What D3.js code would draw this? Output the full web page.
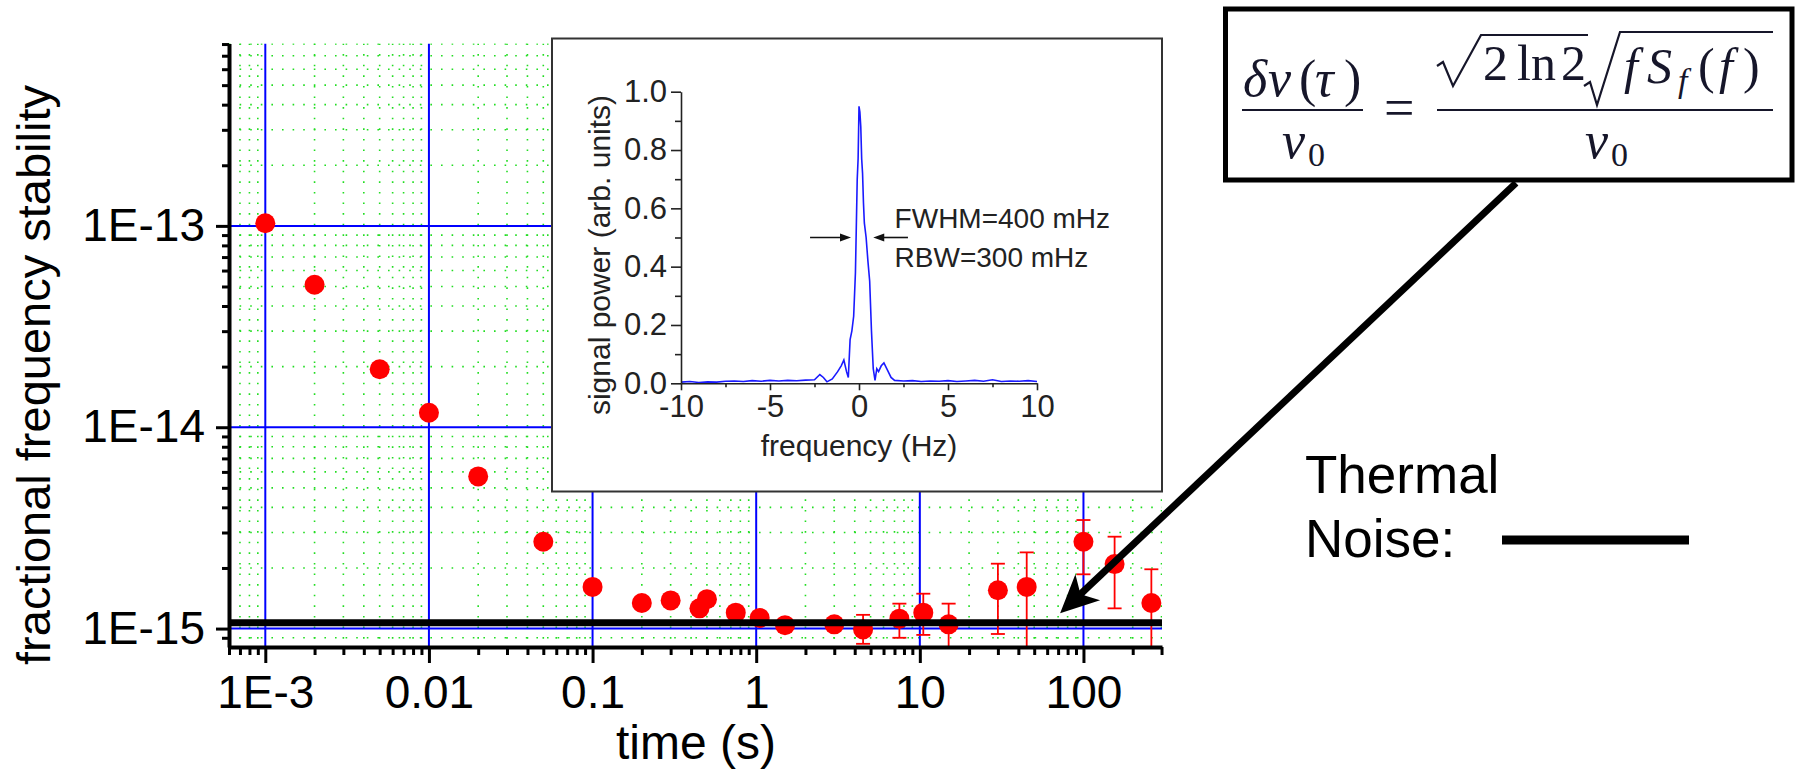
<!DOCTYPE html>
<html>
<head>
<meta charset="utf-8">
<script src="https://cdn.jsdelivr.net/npm/d3@7"></script>
<style>
  body { margin: 0; background: #fff; }
  svg { display: block; font-family: "Liberation Sans", Arial, sans-serif; }
</style>
</head>
<body>
<svg id="chart" width="1796" height="770"></svg>
<script>
// averaging time (s) and fractional frequency stability
var tau = [0.001, 0.002, 0.005, 0.01, 0.02, 0.05, 0.1, 0.2, 0.3, 0.45, 0.5, 0.75, 1.05, 1.5,
           3, 4.5, 7.5, 10.5, 15, 30, 45, 100, 155, 260];
var sigma = [1.03e-13, 5.1e-14, 1.94e-14, 1.18e-14, 5.7e-15, 2.7e-15, 1.61e-15, 1.34e-15, 1.38e-15,
             1.26e-15, 1.40e-15, 1.2e-15, 1.13e-15, 1.04e-15, 1.05e-15, 0.99e-15, 1.12e-15, 1.2e-15,
             1.05e-15, 1.55e-15, 1.61e-15, 2.7e-15, 2.09e-15, 1.34e-15];
var errLow = [null, null, null, null, null, null, null, null, null, null, null, null, null, null, null,
              8.4e-16, 0.9e-15, 0.93e-15, 7.9e-16, 0.94e-15, 7.9e-16, 1.86e-15, 1.26e-15, 7.9e-16];
var errHigh = [null, null, null, null, null, null, null, null, null, null, null, null, null, null, null,
               1.17e-15, 1.33e-15, 1.49e-15, 1.33e-15, 2.1e-15, 2.39e-15, 3.46e-15, 2.86e-15, 1.97e-15];
var thermalNoise = 1.07e-15;

var xMajor = [1e-3, 1e-2, 1e-1, 1, 10, 100];
var xTickLabels = ['1E-3', '0.01', '0.1', '1', '10', '100'];
var yMajor = [1e-15, 1e-14, 1e-13];
var yTickLabels = ['1E-15', '1E-14', '1E-13'];

// inset: beat note spectrum
var specFreq = [-10, -9.5, -9, -8.5, -8, -7.5, -7, -6.5, -6, -5.5, -5, -4.5, -4, -3.5, -3, -2.5,
                -2.2, -2.0, -1.8, -1.5, -1.2, -1.0, -0.85, -0.7, -0.6, -0.5, -0.4, -0.3, -0.2, -0.1,
                -0.05, 0, 0.05, 0.1, 0.15, 0.2, 0.25, 0.3, 0.4, 0.5, 0.6, 0.7, 0.8, 0.9, 1.0, 1.1,
                1.25, 1.4, 1.6, 1.8, 2.0, 2.5, 3, 3.5, 4, 4.5, 5, 5.5, 6, 6.5, 7, 7.5, 8, 8.5, 9, 9.5, 10];
var specPower = [0.004, 0.006, 0.003, 0.005, 0.004, 0.007, 0.008, 0.006, 0.009, 0.007, 0.01, 0.008,
                 0.01, 0.009, 0.011, 0.012, 0.03, 0.02, 0.005, 0.015, 0.04, 0.06, 0.08, 0.04, 0.02,
                 0.15, 0.18, 0.23, 0.38, 0.7, 0.77, 0.95, 0.93, 0.88, 0.77, 0.72, 0.62, 0.55, 0.5,
                 0.42, 0.35, 0.18, 0.05, 0.01, 0.05, 0.04, 0.06, 0.07, 0.045, 0.02, 0.01, 0.008,
                 0.009, 0.006, 0.008, 0.007, 0.009, 0.006, 0.008, 0.01, 0.007, 0.012, 0.006, 0.008,
                 0.007, 0.009, 0.006];
var insetXTicks = [-10, -5, 0, 5, 10];
var insetXMinor = [-7.5, -2.5, 2.5, 7.5];
var insetYTicks = [0, 0.2, 0.4, 0.6, 0.8, 1.0];
var insetYMinor = [0.1, 0.3, 0.5, 0.7, 0.9];

var svg = d3.select('#chart');
svg.append('rect').attr('width', 1796).attr('height', 770).attr('fill', '#fff');

var plot = {left: 229, right: 1162, top: 43.5, bottom: 647};
var x = d3.scaleLog().domain([6e-4, 302]).range([plot.left, plot.right]);
var y = d3.scaleLog().domain([8.1e-16, 8.05e-13]).range([plot.bottom, plot.top]);

function minorTicks(domain) {
  var lo = domain[0], hi = domain[1], out = [];
  for (var e = Math.floor(Math.log10(lo)); e <= Math.ceil(Math.log10(hi)); e++) {
    for (var m = 2; m <= 9; m++) {
      var v = m * Math.pow(10, e);
      if (v >= lo * 0.999 && v <= hi * 1.001) out.push(v);
    }
  }
  return out;
}
var xMinor = minorTicks(x.domain());
var yMinor = minorTicks(y.domain());

svg.append('clipPath').attr('id', 'plotClip').append('rect')
  .attr('x', plot.left).attr('y', plot.top)
  .attr('width', plot.right - plot.left).attr('height', plot.bottom - plot.top);

// grid
var grid = svg.append('g').attr('clip-path', 'url(#plotClip)');
grid.selectAll('.gx').data(xMinor).enter().append('line')
  .attr('x1', function(d) { return x(d); }).attr('x2', function(d) { return x(d); })
  .attr('y1', plot.top).attr('y2', plot.bottom)
  .attr('stroke', '#22dd22').attr('stroke-width', 1.6).attr('stroke-dasharray', '1.6,9');
grid.selectAll('.gy').data(yMinor).enter().append('line')
  .attr('y1', function(d) { return y(d); }).attr('y2', function(d) { return y(d); })
  .attr('x1', plot.left).attr('x2', plot.right)
  .attr('stroke', '#22dd22').attr('stroke-width', 1.6).attr('stroke-dasharray', '1.6,9');
grid.selectAll('.bx').data(xMajor).enter().append('line')
  .attr('x1', function(d) { return x(d); }).attr('x2', function(d) { return x(d); })
  .attr('y1', plot.top).attr('y2', plot.bottom)
  .attr('stroke', '#0000ff').attr('stroke-width', 2);
grid.selectAll('.by').data(yMajor).enter().append('line')
  .attr('y1', function(d) { return y(d); }).attr('y2', function(d) { return y(d); })
  .attr('x1', plot.left).attr('x2', plot.right)
  .attr('stroke', '#0000ff').attr('stroke-width', 2);

// inset box
var inset = {left: 552, right: 1162, top: 38.5, bottom: 491.5};
svg.append('rect')
  .attr('x', inset.left).attr('y', inset.top)
  .attr('width', inset.right - inset.left).attr('height', inset.bottom - inset.top)
  .attr('fill', '#fff').attr('stroke', '#333').attr('stroke-width', 2);

// error bars and points
var marks = svg.append('g').attr('clip-path', 'url(#plotClip)');
tau.forEach(function(t, i) {
  if (errLow[i] === null) return;
  var cx = x(t);
  marks.append('line').attr('x1', cx).attr('x2', cx)
    .attr('y1', y(errLow[i])).attr('y2', y(errHigh[i]))
    .attr('stroke', '#ff0000').attr('stroke-width', 1.8);
  [errLow[i], errHigh[i]].forEach(function(v) {
    marks.append('line').attr('x1', cx - 7).attr('x2', cx + 7)
      .attr('y1', y(v)).attr('y2', y(v))
      .attr('stroke', '#ff0000').attr('stroke-width', 1.8);
  });
});
marks.selectAll('circle').data(tau).enter().append('circle')
  .attr('cx', function(d) { return x(d); })
  .attr('cy', function(d, i) { return y(sigma[i]); })
  .attr('r', 10)
  .attr('fill', '#ff0000');

marks.append('line')
  .attr('x1', plot.left).attr('x2', plot.right)
  .attr('y1', y(thermalNoise)).attr('y2', y(thermalNoise))
  .attr('stroke', '#000').attr('stroke-width', 7);

// axes
function styleAxis(g, width, size) {
  g.select('.domain').attr('stroke', '#000').attr('stroke-width', width);
  g.selectAll('line').attr('stroke', '#000').attr('stroke-width', 3);
  g.selectAll('text').attr('fill', '#000').attr('font-size', size)
    .attr('font-family', '"Liberation Sans", Arial, sans-serif');
}
var yAxis = svg.append('g').attr('transform', 'translate(' + plot.left + ',0)')
  .call(d3.axisLeft(y).tickValues(yMajor).tickSize(13).tickSizeOuter(0).tickPadding(11)
    .tickFormat(function(d, i) { return yTickLabels[i]; }));
svg.append('g').attr('transform', 'translate(' + plot.left + ',0)')
  .call(d3.axisLeft(y).tickValues(yMinor).tickSize(7).tickSizeOuter(0).tickFormat(''))
  .call(function(g) { g.select('.domain').remove(); g.selectAll('line').attr('stroke', '#000').attr('stroke-width', 3); });
styleAxis(yAxis, 4, 46);

var xAxis = svg.append('g').attr('transform', 'translate(0,' + plot.bottom + ')')
  .call(d3.axisBottom(x).tickValues(xMajor).tickSize(16).tickSizeOuter(0).tickPadding(12)
    .tickFormat(function(d, i) { return xTickLabels[i]; }));
svg.append('g').attr('transform', 'translate(0,' + plot.bottom + ')')
  .call(d3.axisBottom(x).tickValues(xMinor).tickSize(8).tickSizeOuter(0).tickFormat(''))
  .call(function(g) { g.select('.domain').remove(); g.selectAll('line').attr('stroke', '#000').attr('stroke-width', 3); });
styleAxis(xAxis, 4, 46);

svg.append('text').attr('x', 696).attr('y', 759).attr('text-anchor', 'middle')
  .attr('font-size', 48).text('time (s)');
svg.append('text').attr('transform', 'translate(50,375) rotate(-90)').attr('text-anchor', 'middle')
  .attr('font-size', 47).text('fractional frequency stability');

// inset plot
var ix = d3.scaleLinear().domain([-10, 10]).range([681, 1037]);
var iy = d3.scaleLinear().domain([0, 1]).range([383.3, 91.7]);
var spec = specFreq.map(function(f, i) { return [f, specPower[i]]; });
svg.append('path')
  .attr('d', d3.line().x(function(d) { return ix(d[0]); }).y(function(d) { return iy(d[1]); })(spec))
  .attr('fill', 'none').attr('stroke', '#1a1aff').attr('stroke-width', 1.6);

function styleInsetAxis(g) {
  g.select('.domain').attr('stroke', '#222').attr('stroke-width', 1.6);
  g.selectAll('line').attr('stroke', '#222').attr('stroke-width', 1.6);
  g.selectAll('text').attr('fill', '#222').attr('font-size', 31)
    .attr('font-family', '"Liberation Sans", Arial, sans-serif');
}
var iyAxis = svg.append('g').attr('transform', 'translate(681,0)')
  .call(d3.axisLeft(iy).tickValues(insetYTicks).tickSize(10).tickSizeOuter(0).tickPadding(4)
    .tickFormat(d3.format('.1f')));
styleInsetAxis(iyAxis);
svg.append('g').attr('transform', 'translate(681,0)')
  .call(d3.axisLeft(iy).tickValues(insetYMinor).tickSize(6).tickFormat(''))
  .call(function(g) { g.select('.domain').remove(); g.selectAll('line').attr('stroke', '#222').attr('stroke-width', 1.6); });
var ixAxis = svg.append('g').attr('transform', 'translate(0,383.3)')
  .call(d3.axisBottom(ix).tickValues(insetXTicks).tickSize(7).tickSizeOuter(0).tickPadding(5)
    .tickFormat(function(d) { return String(d); }));
styleInsetAxis(ixAxis);
svg.append('g').attr('transform', 'translate(0,383.3)')
  .call(d3.axisBottom(ix).tickValues(insetXMinor).tickSize(4).tickFormat(''))
  .call(function(g) { g.select('.domain').remove(); g.selectAll('line').attr('stroke', '#222').attr('stroke-width', 1.6); });

svg.append('text').attr('x', ix(0)).attr('y', 456).attr('text-anchor', 'middle')
  .attr('font-size', 30).attr('fill', '#222').text('frequency (Hz)');
svg.append('text').attr('transform', 'translate(610,255) rotate(-90)').attr('text-anchor', 'middle')
  .attr('font-size', 30).attr('fill', '#222').text('signal power (arb. units)');

// FWHM arrows
function smallArrow(f0, f1, p) {
  var x0 = ix(f0), x1 = ix(f1), yy = iy(p), dir = x1 > x0 ? 1 : -1;
  svg.append('line').attr('x1', x0).attr('x2', x1 - dir * 8).attr('y1', yy).attr('y2', yy)
    .attr('stroke', '#111').attr('stroke-width', 1.6);
  svg.append('path')
    .attr('d', 'M' + x1 + ',' + yy + 'L' + (x1 - dir * 11) + ',' + (yy - 4) + 'L' + (x1 - dir * 11) + ',' + (yy + 4) + 'Z')
    .attr('fill', '#111');
}
smallArrow(-2.75, -0.45, 0.5);
smallArrow(2.75, 0.8, 0.5);
svg.append('text').attr('x', ix(2.0)).attr('y', iy(0.533)).attr('font-size', 28).attr('fill', '#222')
  .text('FWHM=400 mHz');
svg.append('text').attr('x', ix(2.0)).attr('y', iy(0.4)).attr('font-size', 28).attr('fill', '#222')
  .text('RBW=300 mHz');

// arrow from the formula to the thermal noise line
var tip = [x(72), y(1.19e-15)], start = [1516, 183];
var dx = start[0] - tip[0], dy = start[1] - tip[1], len = Math.sqrt(dx * dx + dy * dy);
var ux = dx / len, uy = dy / len, px = -uy, py = ux;
svg.append('line').attr('x1', start[0]).attr('y1', start[1])
  .attr('x2', tip[0] + ux * 20).attr('y2', tip[1] + uy * 20)
  .attr('stroke', '#000').attr('stroke-width', 7);
svg.append('path')
  .attr('d', 'M' + tip[0] + ',' + tip[1] +
    'L' + (tip[0] + ux * 38 + px * 18) + ',' + (tip[1] + uy * 38 + py * 18) +
    'L' + (tip[0] + ux * 28) + ',' + (tip[1] + uy * 28) +
    'L' + (tip[0] + ux * 38 - px * 18) + ',' + (tip[1] + uy * 38 - py * 18) + 'Z')
  .attr('fill', '#000');

// formula box
svg.append('rect').attr('x', 1225.5).attr('y', 9).attr('width', 566.5).attr('height', 171)
  .attr('fill', 'none').attr('stroke', '#000').attr('stroke-width', 5);

var mathColor = '#16162a';
function glyph(s, gx, gy, size, italic) {
  svg.append('text').attr('x', gx).attr('y', gy)
    .attr('font-family', '"Liberation Serif", "DejaVu Serif", serif')
    .attr('font-size', size).attr('font-style', italic ? 'italic' : 'normal')
    .attr('fill', mathColor).text(s);
}
function bar(x1, x2, by) {
  svg.append('line').attr('x1', x1).attr('x2', x2).attr('y1', by).attr('y2', by)
    .attr('stroke', mathColor).attr('stroke-width', 2.2);
}
// delta nu(tau) / nu0
glyph('\u03B4', 1243, 96, 52, true);
glyph('\u03BD', 1268, 96, 52, true);
glyph('(', 1299, 96, 52, false);
glyph('\u03C4', 1315, 96, 52, true);
glyph(')', 1344, 96, 52, false);
bar(1242, 1363, 110);
glyph('\u03BD', 1282, 158, 52, true);
glyph('0', 1308, 166, 34, false);
glyph('=', 1384, 126, 54, false);
// sqrt(2 ln 2) sqrt(f S_f(f)) / nu0
svg.append('path').attr('d', 'M1437,66 L1443,62 L1453,86 L1481,35 L1588,35')
  .attr('fill', 'none').attr('stroke', mathColor).attr('stroke-width', 2.2);
glyph('2', 1483, 80, 50, false);
glyph('ln', 1517, 80, 50, false);
glyph('2', 1561, 80, 50, false);
svg.append('path').attr('d', 'M1584,86 L1590,82 L1597,105 L1620,32 L1773,32')
  .attr('fill', 'none').attr('stroke', mathColor).attr('stroke-width', 2.2);
glyph('f', 1624, 83, 50, true);
glyph('S', 1647, 83, 50, true);
glyph('f', 1678, 92, 34, true);
glyph('(', 1698, 83, 50, false);
glyph('f', 1719, 83, 50, true);
glyph(')', 1743, 83, 50, false);
bar(1437, 1773, 110);
glyph('\u03BD', 1585, 158, 52, true);
glyph('0', 1611, 166, 34, false);

// thermal noise legend
svg.append('text').attr('x', 1305).attr('y', 493).attr('font-size', 53).text('Thermal');
svg.append('text').attr('x', 1305).attr('y', 557).attr('font-size', 53).text('Noise:');
svg.append('line').attr('x1', 1502).attr('x2', 1689).attr('y1', 540).attr('y2', 540)
  .attr('stroke', '#000').attr('stroke-width', 9);
</script>
</body>
</html>
